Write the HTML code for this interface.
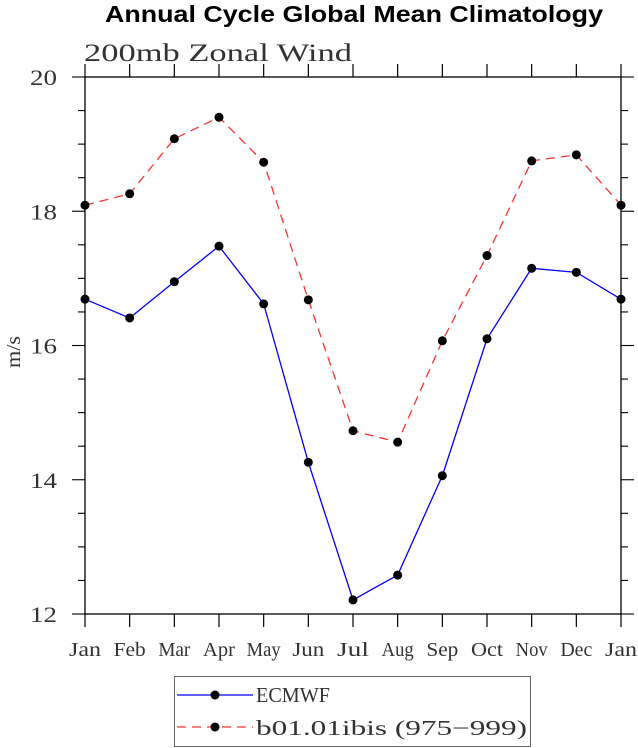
<!DOCTYPE html>
<html><head><meta charset="utf-8"><style>
html,body{margin:0;padding:0;background:#fff;}
svg{display:block;}
text{font-family:"Liberation Serif",serif;fill:#333;}
</style></head><body>
<svg id="chart" width="638" height="748" viewBox="0 0 638 748" xmlns="http://www.w3.org/2000/svg">
<text x="105" y="22" textLength="498" lengthAdjust="spacingAndGlyphs" style="font-family:'Liberation Sans',sans-serif;font-weight:bold;font-size:23px;fill:#000">Annual Cycle Global Mean Climatology</text>
<text x="84" y="61" textLength="268" lengthAdjust="spacingAndGlyphs" style="font-size:25px">200mb Zonal Wind</text>
<text transform="translate(20,352) rotate(-90)" text-anchor="middle" textLength="32" lengthAdjust="spacingAndGlyphs" style="font-size:20px">m/s</text>
<g id="axes"></g>
<g id="series"></g>
<g>
<rect x="174.5" y="676.5" width="356" height="70" fill="#fff" stroke="#666" stroke-width="1"/>
<g>
<line x1="177" y1="695" x2="253" y2="695" stroke="#0000ff" stroke-width="1.3"/>
<circle cx="215" cy="695" r="4.5" fill="#000"/>
<text x="256" y="702" textLength="74" lengthAdjust="spacingAndGlyphs" style="font-size:21px">ECMWF</text>
</g>
<g>
<line x1="177" y1="727" x2="253" y2="727" stroke="#ff3333" stroke-width="1.3" stroke-dasharray="9,6"/>
<circle cx="215" cy="727" r="4.5" fill="#000"/>
<text x="256" y="735" textLength="271" lengthAdjust="spacingAndGlyphs" style="font-size:21px">b01.01ibis (975−999)</text>
</g>
</g>
</svg>
<script>
const months = ["Jan","Feb","Mar","Apr","May","Jun","Jul","Aug","Sep","Oct","Nov","Dec","Jan"];
const ecmwf = [16.69,16.41,16.95,17.48,16.62,14.26,12.21,12.58,14.06,16.10,17.15,17.09,16.69];
const b01 = [18.09,18.26,19.08,19.40,18.73,16.68,14.73,14.56,16.07,17.34,18.75,18.84,18.09];
const yTicks = [12,14,16,18,20];
const NS="http://www.w3.org/2000/svg";
const X0=85,X1=621,Y0=614,Y1=77,YMIN=12,YMAX=20;
function xs(i){return X0+(X1-X0)*i/(months.length-1);}
function ys(v){return Y0-(v-YMIN)*(Y0-Y1)/(YMAX-YMIN);}
function mk(tag,attrs,parent){const e=document.createElementNS(NS,tag);for(const k in attrs)e.setAttribute(k,attrs[k]);parent.appendChild(e);return e;}
const axes=document.getElementById('axes');
const frame=mk('rect',{x:X0,y:Y1,width:X1-X0,height:Y0-Y1,fill:'none',stroke:'#000','stroke-width':1.3},axes);


months.forEach((m,i)=>{
  const x=xs(i);
  const t1=mk('line',{x1:x,y1:Y0,x2:x,y2:Y0+13,stroke:'#000','stroke-width':1.2},axes);
  
  
  const t2=mk('line',{x1:x,y1:Y1,x2:x,y2:Y1-13,stroke:'#000','stroke-width':1.2},axes);
  
  
  const w = m==="May"?34:32;
  const lb=mk('text',{x:x-w/2,y:656,textLength:w,lengthAdjust:'spacingAndGlyphs','font-size':20},axes);
  lb.textContent=m;
  
  
});
for(let v=YMIN;v<=YMAX+0.001;v+=0.5){
  const major=Math.abs(v-Math.round(v/2)*2)<0.001;
  const len=major?13:7;
  const y=ys(v);
  const a=mk('line',{x1:X0,y1:y,x2:X0-len,y2:y,stroke:'#000','stroke-width':1.1},axes);
  
  
  const b=mk('line',{x1:X1,y1:y,x2:X1+len,y2:y,stroke:'#000','stroke-width':1.1},axes);
  
  
}
yTicks.forEach(v=>{
  const lb=mk('text',{x:30,y:ys(v)+8,textLength:27,lengthAdjust:'spacingAndGlyphs','font-size':22},axes);
  lb.textContent=String(v);
  
  
});
const series=document.getElementById('series');
function draw(vals,color,dash,name){
  const g=mk('g',{},series);
  
  
  const pts=vals.map((v,i)=>xs(i)+','+ys(v)).join(' ');
  const pl=mk('polyline',{points:pts,fill:'none',stroke:color,'stroke-width':1.3,'stroke-dasharray':dash},g);
  
  
  vals.forEach((v,i)=>{
    const c=mk('circle',{cx:xs(i),cy:ys(v),r:4.5,fill:'#000'},g);
    
    
  });
}
draw(ecmwf,'#0000ff','none','series-ecmwf');
draw(b01,'#ff3333','9,6','series-b01');
</script>
</body></html>
